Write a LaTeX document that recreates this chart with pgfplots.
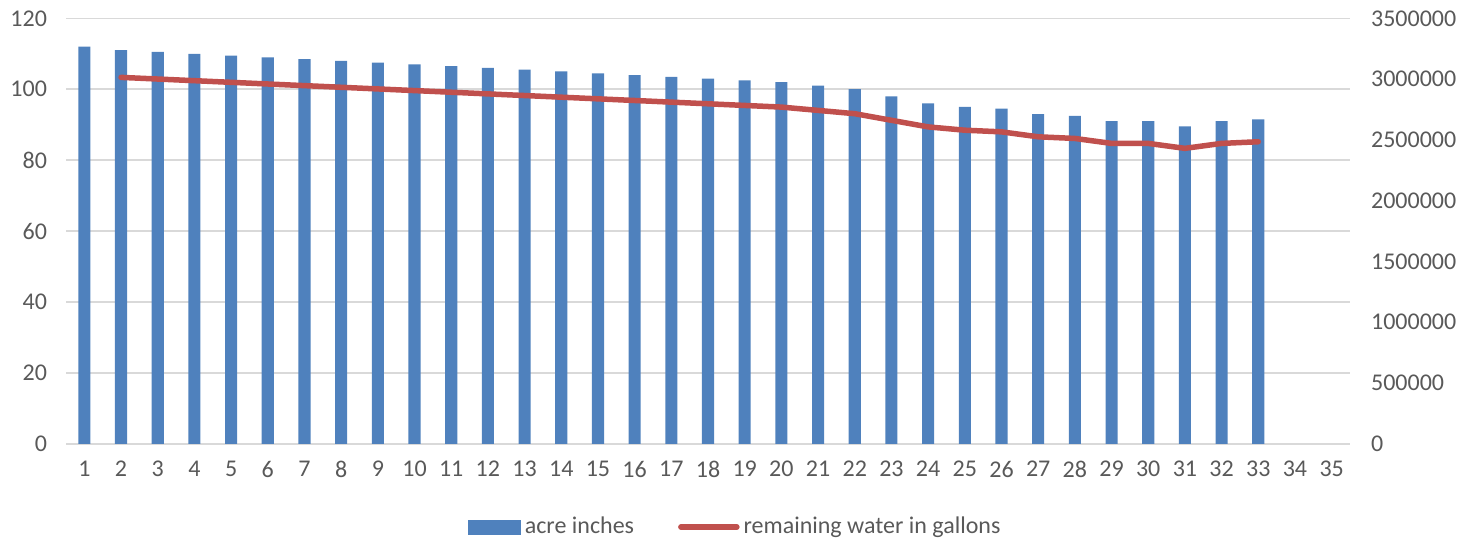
\documentclass[border=0pt]{standalone}
\usepackage{fontspec}
\setmainfont{Carlito}
\usepackage{pgfplots}
\pgfplotsset{compat=1.18}
\definecolor{barblue}{HTML}{4F81BD}
\definecolor{linered}{HTML}{C0504D}
\definecolor{txt}{HTML}{595959}
\definecolor{gridc}{HTML}{D9D9D9}
\begin{document}
\begin{tikzpicture}
\pgfplotsset{
  common/.style={
    scale only axis, width=642pt, height=212.75pt,
    xmin=0.5, xmax=35.5,
    font=\fontsize{12}{14}\selectfont,
    tick label style={font=\fontsize{12}{14}\selectfont, text=txt},
    /pgf/number format/assume math mode=true,
    major tick length=0pt,
  }
}
\begin{axis}[common,
  ybar, bar width=0.33,
  ymin=0, ymax=120, ytick={0,20,40,60,80,100,120},
  xtick={1,...,35},
  axis x line*=bottom, axis y line*=left,
  x axis line style={-, draw=gridc, line width=0.75pt},
  y axis line style={draw=none},
  ymajorgrids, grid style={draw=gridc, line width=0.75pt},
  yticklabel style={xshift=-6pt},
  xticklabel style={yshift=-5pt},
]
\addplot[fill=barblue, draw=none] coordinates {
(1,112) (2,111) (3,110.5) (4,110) (5,109.5) (6,109) (7,108.5) (8,108) (9,107.5) (10,107)
(11,106.5) (12,106) (13,105.5) (14,105) (15,104.5) (16,104) (17,103.5) (18,103) (19,102.5) (20,102)
(21,101) (22,100) (23,98) (24,96) (25,95) (26,94.5) (27,93) (28,92.5) (29,91) (30,91)
(31,89.5) (32,91) (33,91.5)
};
\end{axis}
\begin{axis}[common,
  ymin=0, ymax=3500000,
  ytick={0,500000,1000000,1500000,2000000,2500000,3000000,3500000},
  scaled y ticks=false,
  yticklabel style={/pgf/number format/fixed, /pgf/number format/1000 sep={}, xshift=7pt},
  axis x line=none, axis y line*=right,
  y axis line style={draw=none},
  legend style={at={(0.522,-0.1955)}, anchor=center, draw=none, fill=none,
    legend columns=2, font=\fontsize{12}{14}\selectfont, text=txt,
    /tikz/every even column/.append style={column sep=20pt}},
]
\addlegendimage{legend image code/.code={\fill[barblue] (0pt,-3.5pt) rectangle (26pt,3.5pt);}}
\addlegendentry{acre inches}
\addplot[linered, line width=2.75pt, line cap=round, line join=round,
  legend image code/.code={\draw[linered, line width=2.75pt, line cap=round] (0pt,0pt) -- (28pt,0pt);}]
coordinates {
(2,3014125) (3,3000548) (4,2986972) (5,2973395) (6,2959818) (7,2946240) (8,2932663) (9,2919086)
(10,2905509) (11,2891932) (12,2878355) (13,2864778) (14,2851200) (15,2837624) (16,2824046)
(17,2810469) (18,2796892) (19,2783315) (20,2769738) (21,2742583) (22,2715429) (23,2661120)
(24,2606812) (25,2579658) (26,2566080) (27,2525349) (28,2511772) (29,2471040) (30,2471040)
(31,2430309) (32,2471040) (33,2484617)
};
\addlegendentry{remaining water in gallons}
\end{axis}
\pgfresetboundingbox
\useasboundingbox (-33pt,-49.6pt) rectangle (707.5pt,221.9pt);
\end{tikzpicture}
\end{document}
